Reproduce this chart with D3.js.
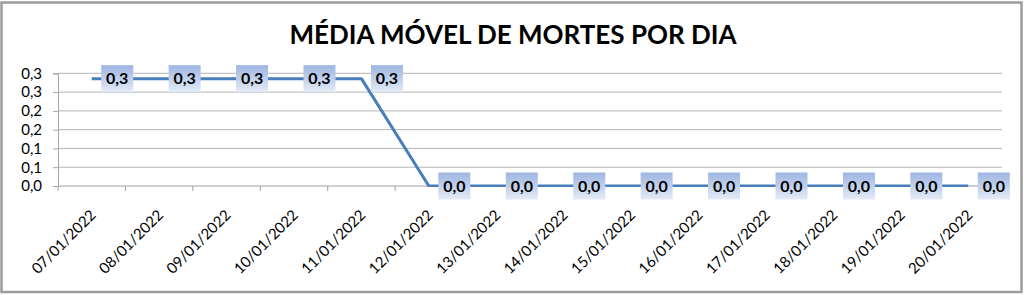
<!DOCTYPE html>
<html>
<head>
<meta charset="utf-8">
<script src="https://cdn.jsdelivr.net/npm/d3@7"></script>
<style>
  body { margin: 0; background: #fff; }
  text { font-family: Lato, "Noto Sans", sans-serif; }
</style>
</head>
<body>
<div id="chart"></div>
<script>
var categories = ['07/01/2022', '08/01/2022', '09/01/2022', '10/01/2022', '11/01/2022',
  '12/01/2022', '13/01/2022', '14/01/2022', '15/01/2022', '16/01/2022',
  '17/01/2022', '18/01/2022', '19/01/2022', '20/01/2022'];
var mediaMovel = [0.2857, 0.2857, 0.2857, 0.2857, 0.2857,
  0, 0, 0, 0, 0, 0, 0, 0, 0];
var yTickValues = [0, 0.05, 0.1, 0.15, 0.2, 0.25, 0.3];
var yTickLabels = ['0,0', '0,1', '0,1', '0,2', '0,2', '0,3', '0,3'];
var title = 'MÉDIA MÓVEL DE MORTES POR DIA';

var svgWidth = 1024;
var svgHeight = 295;
var plot = { left: 58, right: 1002, top: 73.3, bottom: 186 };

var svg = d3.select('#chart').append('svg')
    .attr('width', svgWidth)
    .attr('height', svgHeight);

// gradient for the data label boxes
var grad = svg.append('defs').append('linearGradient')
    .attr('id', 'lblGrad')
    .attr('x1', 0).attr('y1', 0).attr('x2', 0).attr('y2', 1);
grad.append('stop').attr('offset', '0%').attr('stop-color', '#9db5e1');
grad.append('stop').attr('offset', '100%').attr('stop-color', '#e4ebf7');

svg.select('defs').append('clipPath').attr('id', 'plotClip')
  .append('rect')
    .attr('x', 0).attr('y', 0)
    .attr('width', svgWidth).attr('height', plot.bottom + 1);

// outer border
svg.append('rect')
    .attr('x', 1.5).attr('y', 2.5)
    .attr('width', 1020).attr('height', 289.5)
    .attr('fill', 'none')
    .attr('stroke', '#9c9c9c')
    .attr('stroke-width', 2.5);

svg.append('text')
    .attr('x', 513)
    .attr('y', 44)
    .attr('text-anchor', 'middle')
    .attr('font-size', '26px')
    .attr('font-weight', 'bold')
    .attr('fill', '#000')
    .text(title);

var xScale = d3.scaleBand()
    .domain(categories)
    .range([plot.left, plot.right]);
var yScale = d3.scaleLinear()
    .domain([0, 0.3])
    .range([plot.bottom, plot.top]);

var cx = d => xScale(d) + xScale.bandwidth() / 2;

// gridlines
svg.append('g').selectAll('line')
    .data(yTickValues.slice(1))
    .enter().append('line')
    .attr('x1', plot.left).attr('x2', plot.right)
    .attr('y1', d => yScale(d)).attr('y2', d => yScale(d))
    .attr('stroke', '#b4b4b4')
    .attr('stroke-width', 1);

// y axis
var leftAxis = d3.axisLeft(yScale)
    .tickValues(yTickValues)
    .tickFormat((d, i) => yTickLabels[i])
    .tickSize(5)
    .tickPadding(11);
var yAxis = svg.append('g')
    .attr('transform', `translate(${plot.left}, 0)`)
    .call(leftAxis);
yAxis.select('.domain').attr('stroke', '#a6a6a6');
yAxis.selectAll('.tick line').attr('stroke', '#a6a6a6');
yAxis.selectAll('.tick text')
    .attr('font-size', '15px')
    .attr('font-family', 'Lato, sans-serif')
    .attr('fill', '#000');

// x axis line and ticks at category boundaries
svg.append('line')
    .attr('x1', plot.left).attr('x2', plot.right)
    .attr('y1', plot.bottom).attr('y2', plot.bottom)
    .attr('stroke', '#a0a0a0');
svg.append('g').selectAll('line')
    .data(categories)
    .enter().append('line')
    .attr('x1', d => xScale(d)).attr('x2', d => xScale(d))
    .attr('y1', plot.bottom).attr('y2', plot.bottom + 5)
    .attr('stroke', '#a0a0a0');

svg.append('g').selectAll('text')
    .data(categories)
    .enter().append('text')
    .attr('transform', d => `translate(${cx(d) + 5}, ${plot.bottom + 30}) rotate(-45)`)
    .attr('text-anchor', 'end')
    .attr('font-size', '15px')
    .attr('fill', '#000')
    .text(d => d);

// line
var line = d3.line()
    .x((d, i) => cx(categories[i]))
    .y(d => yScale(d));
svg.append('path')
    .datum(mediaMovel)
    .attr('clip-path', 'url(#plotClip)')
    .attr('d', line)
    .attr('fill', 'none')
    .attr('stroke', '#4a7ebb')
    .attr('stroke-width', 3)
    .attr('stroke-linejoin', 'round');

// data labels
var fmt = d3.formatLocale({ decimal: ',', thousands: '.', grouping: [3], currency: ['R$', ''] }).format('.1f');
var labels = svg.append('g').selectAll('g')
    .data(mediaMovel)
    .enter().append('g')
    .attr('transform', (d, i) => `translate(${cx(categories[i]) + 9.5}, ${yScale(d)})`);
labels.append('rect')
    .attr('x', 0).attr('y', -13.5)
    .attr('width', 32).attr('height', 27)
    .attr('fill', 'url(#lblGrad)');
labels.append('text')
    .attr('x', 16).attr('y', 5.5)
    .attr('text-anchor', 'middle')
    .attr('font-size', '16px')
    .attr('font-weight', 'bold')
    .attr('fill', '#000')
    .text(d => fmt(d));
</script>
</body>
</html>
